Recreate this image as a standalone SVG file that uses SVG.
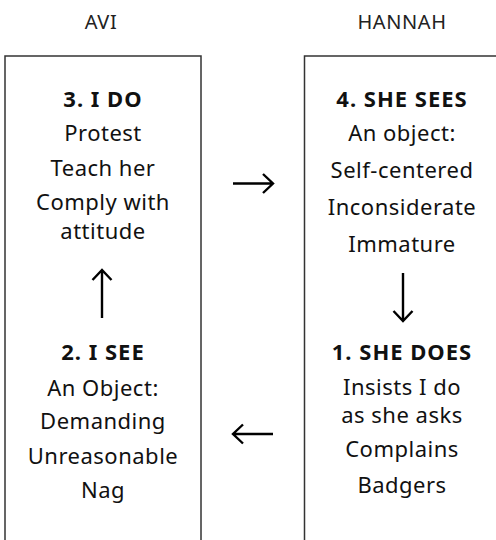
<svg xmlns="http://www.w3.org/2000/svg" width="496" height="540" viewBox="0 0 496 540">
<style>
.box{fill:none;stroke:#333;stroke-width:1.5}
.hdr{font-family:"Noto Sans","Open Sans",sans-serif;font-size:20px;letter-spacing:0.6px;fill:#222;text-anchor:middle}
.t{font-family:"Noto Sans","Open Sans",sans-serif;font-size:22px;letter-spacing:0.5px;fill:#111;text-anchor:middle}
.b{font-family:"Noto Sans","Open Sans",sans-serif;font-size:22px;letter-spacing:1px;font-weight:bold;fill:#111;text-anchor:middle}
.arr{fill:none;stroke:#000;stroke-width:2.4;stroke-linecap:butt;stroke-linejoin:miter}
</style>
<rect width="496" height="540" fill="#fff"/>
<g id="headers">
<text class="hdr" x="101" y="29">AVI</text>
<text class="hdr" x="402" y="29">HANNAH</text>
</g>
<g id="avi-box"><rect class="box" x="5" y="56" width="196" height="500"/></g>
<g id="hannah-box"><rect class="box" x="304.5" y="56" width="200" height="500"/></g>
<g id="node-3">
<text class="b" x="103" y="107">3. I DO</text>
<text class="t" x="103" y="141">Protest</text>
<text class="t" x="103" y="176">Teach her</text>
<text class="t" x="103" y="210">Comply with</text>
<text class="t" x="103" y="239">attitude</text>
</g>
<g id="node-2">
<text class="b" x="103" y="360">2. I SEE</text>
<text class="t" x="103" y="396">An Object:</text>
<text class="t" x="103" y="429">Demanding</text>
<text class="t" x="103" y="464">Unreasonable</text>
<text class="t" x="103" y="498">Nag</text>
</g>
<g id="node-4">
<text class="b" x="402" y="107">4. SHE SEES</text>
<text class="t" x="402" y="141">An object:</text>
<text class="t" x="402" y="178">Self-centered</text>
<text class="t" x="402" y="215">Inconsiderate</text>
<text class="t" x="402" y="252">Immature</text>
</g>
<g id="node-1">
<text class="b" x="402" y="360">1. SHE DOES</text>
<text class="t" x="402" y="395">Insists I do</text>
<text class="t" x="402" y="423">as she asks</text>
<text class="t" x="402" y="457">Complains</text>
<text class="t" x="402" y="493">Badgers</text>
</g>
<g id="connectors">
<path class="arr" d="M233 183.5H273M263 174L273 183.5L263 193"/>
<path class="arr" d="M403 273V321M393.5 311L403 321L412.5 311"/>
<path class="arr" d="M273 434H233M243 424.5L233 434L243 443.5"/>
<path class="arr" d="M102 318V270M92.5 280L102 270L111.5 280"/>
</g>
</svg>
